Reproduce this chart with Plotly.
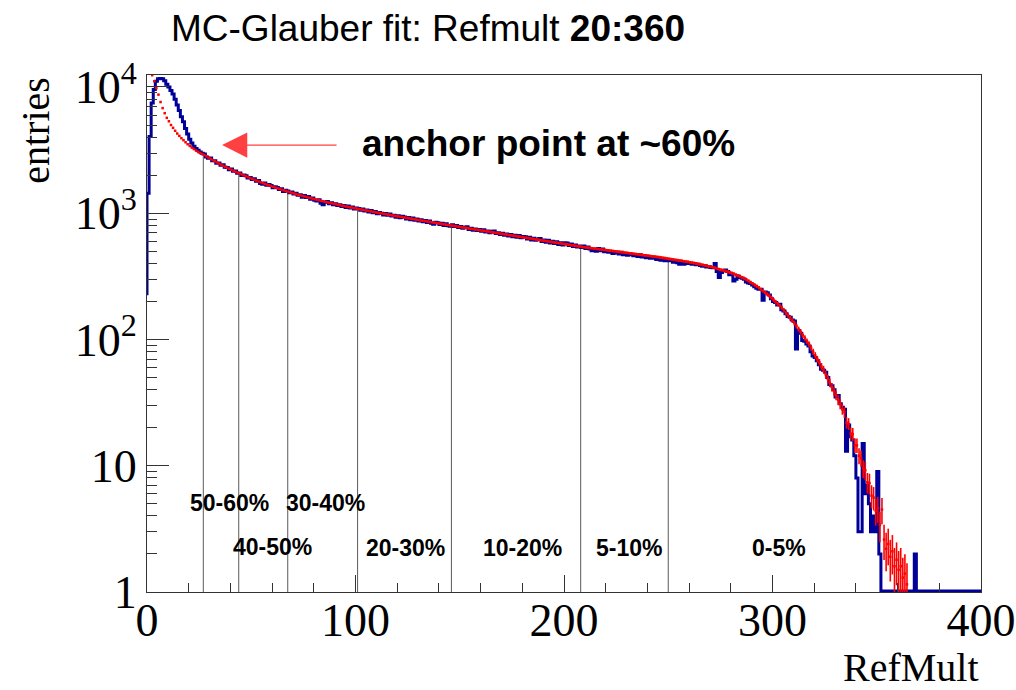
import numpy as np
import plotly.graph_objects as go

# ---- RefMult data histogram: unit-width bins, first bin starts at -1 ----
data_first_bin = -1
data_counts = [
    230, 1440, 4050, 7480, 9550, 11100, 11600, 11700, 11600, 11200,
    10500, 10000, 9400, 8800, 8000, 7200, 6500, 5800, 5300, 4700,
    4250, 3850, 3600, 3400, 3260, 3150, 3060, 2980, 2950, 2790,
    2730, 2740, 2610, 2600, 2490, 2500, 2400, 2420, 2310, 2300,
    2210, 2240, 2150, 2160, 2070, 2080, 1990, 2010, 1980, 1900,
    1920, 1850, 1880, 1790, 1820, 1720, 1700, 1740, 1670, 1690,
    1660, 1590, 1620, 1600, 1540, 1560, 1490, 1520, 1500, 1450,
    1470, 1420, 1440, 1390, 1400, 1340, 1380, 1330, 1360, 1290,
    1320, 1270, 1250, 1280, 1200, 1170, 1220, 1240, 1190, 1210,
    1170, 1190, 1150, 1170, 1130, 1150, 1110, 1140, 1100, 1120,
    1080, 1100, 1090, 1055, 1080, 1040, 1060, 1025, 1050, 1010,
    1030, 990, 1015, 1000, 970, 995, 965, 985, 950, 965,
    930, 955, 920, 945, 935, 900, 925, 890, 915, 880,
    900, 870, 890, 855, 875, 845, 870, 835, 820, 850,
    840, 815, 835, 800, 825, 795, 790, 810, 785, 800,
    770, 785, 760, 775, 780, 745, 760, 735, 750, 730,
    745, 720, 740, 710, 725, 700, 720, 725, 690, 700,
    680, 695, 670, 685, 660, 680, 650, 670, 645, 665,
    640, 655, 650, 625, 645, 615, 635, 610, 625, 630,
    598, 615, 590, 610, 580, 600, 575, 595, 565, 585,
    560, 585, 580, 555, 570, 545, 560, 540, 550, 535,
    550, 525, 540, 520, 505, 515, 500, 525, 505, 520,
    495, 505, 490, 495, 480, 490, 485, 475, 490, 470,
    480, 465, 475, 470, 460, 465, 455, 470, 450, 460,
    445, 455, 440, 445, 440, 430, 440, 425, 435, 420,
    430, 420, 425, 410, 420, 405, 395, 410, 395, 400,
    405, 400, 395, 400, 390, 395, 385, 380, 385, 375,
    378, 372, 370, 400, 345, 310, 340, 350, 355, 345,
    325, 330, 290, 300, 318, 310, 305, 300, 285, 280,
    278, 270, 262, 255, 250, 250, 205, 238, 235, 225,
    210, 200, 196, 188, 190, 172, 168, 160, 152, 150,
    143, 140, 84, 118, 112, 98, 97, 92, 89, 80,
    74, 72, 68, 63, 58, 57, 55, 50, 44, 43,
    40, 35, 36, 31, 29, 28, 13, 21, 17, 16,
    12, 8, 3, 3, 15, 6, 7, 5, 3, 4,
    3, 9, 2, 0, 0, 0, 0, 0, 0, 0,
    0, 0, 0, 0, 0, 0, 0, 0, 0, 2,
    0, 0, 0, 0, 0, 0, 0, 0, 0, 0,
    0, 0, 0, 0, 0, 0, 0, 0, 0, 0,
    0, 0, 0, 0, 0, 0, 0, 0, 0, 0,
    0,
]

# ---- MC-Glauber fit: unit-width bins starting at 2, shown at bin centres ----
fit_first_bin = 2
fit_counts = [
    12400, 11100, 9800, 8700, 7600, 6800, 6200, 5700, 5350, 5000,
    4750, 4500, 4280, 4100, 3930, 3790, 3650, 3520, 3410, 3310,
    3220, 3140, 3070, 3005, 2945, 2890, 2825, 2761, 2698, 2640,
    2582, 2529, 2477, 2427, 2380, 2333, 2291, 2249, 2208, 2170,
    2133, 2097, 2061, 2028, 1994, 1962, 1931, 1900, 1871, 1842,
    1814, 1787, 1761, 1736, 1712, 1688, 1665, 1642, 1620, 1599,
    1579, 1559, 1540, 1521, 1503, 1485, 1468, 1451, 1435, 1419,
    1403, 1388, 1373, 1359, 1345, 1331, 1318, 1305, 1292, 1279,
    1267, 1255, 1244, 1233, 1222, 1211, 1200, 1190, 1180, 1170,
    1160, 1150, 1141, 1132, 1123, 1114, 1106, 1097, 1089, 1081,
    1073, 1065, 1057, 1049, 1042, 1034, 1026, 1019, 1011, 1004,
    998, 991, 984, 977, 970, 964, 957, 950, 944, 938,
    931, 925, 919, 913, 907, 901, 895, 889, 883, 877,
    872, 866, 860, 855, 849, 844, 839, 833, 828, 823,
    817, 812, 807, 802, 797, 792, 787, 782, 777, 772,
    768, 763, 758, 753, 749, 744, 740, 735, 730, 726,
    721, 717, 712, 708, 703, 699, 695, 690, 686, 682,
    678, 673, 669, 665, 661, 657, 653, 649, 645, 641,
    637, 633, 629, 625, 621, 617, 613, 610, 606, 602,
    598, 595, 591, 587, 584, 580, 577, 573, 570, 566,
    563, 559, 556, 552, 549, 546, 542, 539, 536, 534,
    531, 528, 526, 523, 520, 518, 515, 513, 510, 507,
    505, 502, 500, 497, 495, 492, 490, 487, 485, 482,
    480, 477, 475, 473, 470, 468, 465, 463, 461, 458,
    456, 454, 451, 449, 446, 443, 441, 438, 435, 433,
    430, 427, 425, 422, 420, 417, 414, 412, 409, 406,
    403, 399, 396, 393, 390, 387, 384, 380, 377, 373,
    369, 364, 360, 356, 352, 348, 344, 340, 336, 331,
    325, 320, 315, 310, 305, 298, 291, 284, 277, 270,
    264, 257, 249, 242, 235, 229, 222, 214, 206, 199,
    192, 185, 178, 170, 162, 155, 148, 141, 135, 128,
    121, 115, 108, 103, 97, 92, 86, 80, 75, 70,
    66, 61, 58, 53, 49, 45.5, 42, 39, 36, 33.3,
    30.8, 28, 26.5, 22, 21.5, 18, 17.8, 14.5, 14.5, 12,
    11.5, 9.5, 9.2, 7.4, 7.3, 5.8, 5.6, 4.4, 4.6, 3.4,
    4.5, 2.6, 2.2, 2.4, 1.9, 2.1, 1.6, 1.8, 1.5, 1.6,
    1.3, 1.4, 1.15,
]

# ---- centrality class boundaries (RefMult) and class names ----
cut_edges = [27, 44, 67.5, 101, 146, 208, 250]
class_names = ["50-60%", "40-50%", "30-40%", "20-30%", "10-20%", "5-10%", "0-5%"]

x_ticks = [0, 100, 200, 300, 400]
y_ticks = [1, 10, 100, 1000, 10000]
y_tick_text = ["1", "10", "10<sup>2</sup>", "10<sup>3</sup>", "10<sup>4</sup>"]

# label placement for the centrality classes (RefMult centre, log10 height)
class_label_x = [39.8, 60.2, 85.6, 124.0, 179.9, 231.2, 303.1]
class_label_logy = [0.705, 0.36, 0.705, 0.348, 0.348, 0.348, 0.348]

Y_LOG_MAX = 4.095

# ---- build drawable arrays ----
counts = np.array(data_counts, dtype=float)
edges = np.arange(len(counts) + 1) + data_first_bin
step_x = edges
step_y = np.append(counts, counts[-1])
# empty bins are drawn on the lower frame edge, as on a log-scale histogram
step_y = np.clip(step_y, 1.02, None)

fit_y = np.array(fit_counts, dtype=float)
fit_x = np.arange(len(fit_y)) + fit_first_bin + 0.5
# the simulated sample is larger than the data, so its relative errors are smaller
fit_err = 0.5 * np.sqrt(fit_y)

# cut lines rise from the lower frame edge to the fit curve
cut_x, cut_y = [], []
for c in cut_edges:
    top = 10 ** np.interp(c, fit_x, np.log10(fit_y))
    cut_x += [c, c, None]
    cut_y += [1, top, None]

fig = go.Figure()

fig.add_trace(go.Scatter(
    x=cut_x, y=cut_y, mode="lines",
    line=dict(color="#5a5a5a", width=1),
    hoverinfo="skip",
))

fig.add_trace(go.Scatter(
    x=step_x, y=step_y, mode="lines",
    line=dict(shape="hv", color="#000099", width=3),
    name="data",
))

fig.add_trace(go.Scatter(
    x=fit_x, y=fit_y, mode="markers",
    marker=dict(symbol="square", size=2.5, color="#ff0000", line=dict(width=0)),
    error_y=dict(type="data", array=fit_err, color="#ff0000",
                 thickness=1.6, width=0),
    name="MC-Glauber",
))

serif = "Liberation Serif"
sans = "Liberation Sans"

annotations = []
for name, lx, ly in zip(class_names, class_label_x, class_label_logy):
    annotations.append(dict(
        x=lx, y=ly, xref="x", yref="y", text="<b>%s</b>" % name,
        showarrow=False, xanchor="center", yanchor="middle",
        font=dict(family=sans, size=23, color="#000000"),
    ))

# anchor-point note and its arrow
annotations.append(dict(
    x=192.8, y=3.555, xref="x", yref="y",
    text="<b>anchor point at ~60%</b>", showarrow=False,
    xanchor="center", yanchor="middle",
    font=dict(family=sans, size=37, color="#000000"),
))
annotations.append(dict(
    x=36.0, y=3.54, xref="x", yref="y", text="",
    showarrow=True, ax=116, ay=0,
    arrowhead=2, arrowsize=4.2, arrowwidth=1.2, arrowcolor="#ff4040",
))

# axis titles
annotations.append(dict(
    x=1.0, y=-0.147, xref="paper", yref="paper", text="RefMult",
    showarrow=False, xanchor="right", yanchor="middle",
    font=dict(family=serif, size=40, color="#000000"),
))
annotations.append(dict(
    x=-0.134, y=1.0, xref="paper", yref="paper", text="entries",
    showarrow=False, xanchor="center", yanchor="top", textangle=-90,
    font=dict(family=serif, size=40, color="#000000"),
))

minor_y = [m * 10 ** d for d in range(4) for m in range(2, 10)]

fig.update_layout(
    width=1016, height=690,
    margin=dict(l=147, r=35, t=75, b=98, autoexpand=False),
    paper_bgcolor="white", plot_bgcolor="white",
    showlegend=False,
    title=dict(
        text="MC-Glauber fit: Refmult <b>20:360</b>",
        x=0.4213, xref="container", xanchor="center",
        y=0.959, yref="container", yanchor="middle",
        font=dict(family=sans, size=37, color="#000000"),
    ),
    annotations=annotations,
    xaxis=dict(
        range=[0, 400], tickmode="array", tickvals=x_ticks,
        automargin=False,
        ticks="inside", ticklen=17, tickwidth=1, tickcolor="#333333",
        minor=dict(dtick=20, tick0=0, ticks="inside", ticklen=9,
                   tickwidth=1, tickcolor="#333333", showgrid=False),
        showline=True, linecolor="#333333", linewidth=1, mirror=True,
        showgrid=False, zeroline=False,
        ticklabelstandoff=-12,
        tickfont=dict(family=serif, size=46, color="#000000"),
    ),
    yaxis=dict(
        type="log", range=[0, Y_LOG_MAX],
        automargin=False,
        tickmode="array", tickvals=y_ticks, ticktext=y_tick_text,
        ticks="inside", ticklen=22, tickwidth=1, tickcolor="#333333",
        minor=dict(tickmode="array", tickvals=minor_y, ticks="inside",
                   ticklen=10, tickwidth=1, tickcolor="#333333",
                   showgrid=False),
        showline=True, linecolor="#333333", linewidth=1, mirror=True,
        showgrid=False, zeroline=False,
        tickfont=dict(family=serif, size=46, color="#000000"),
    ),
)

fig.write_html("out.html")
